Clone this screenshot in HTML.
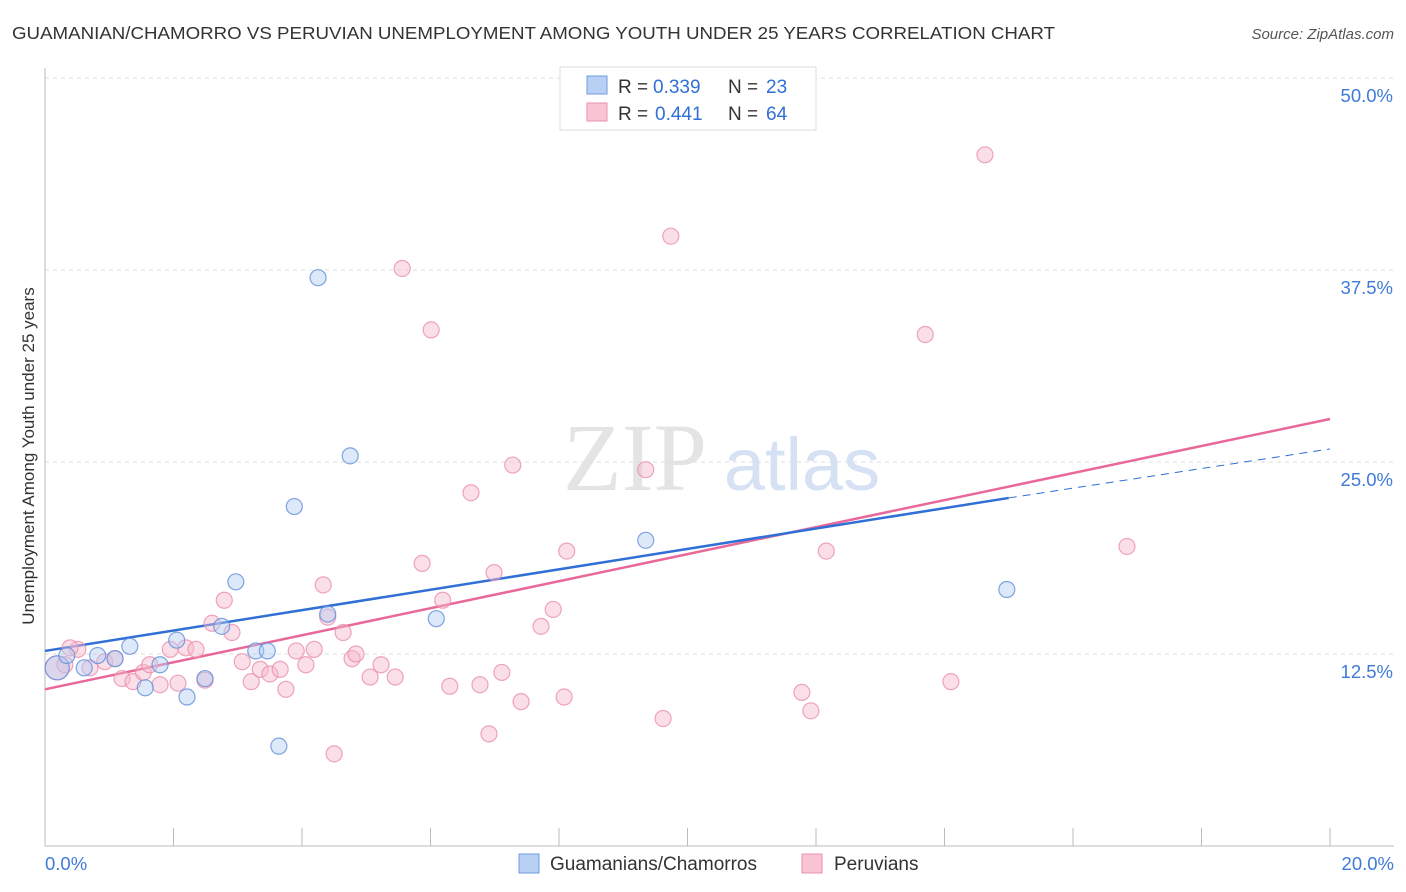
<!DOCTYPE html>
<html><head><meta charset="utf-8"><style>
body{margin:0;background:#fff;font-family:"Liberation Sans",sans-serif;}
svg{display:block}
</style></head><body>
<svg id="chart" width="1406" height="892" xmlns="http://www.w3.org/2000/svg">
<text x="12" y="39" font-size="17.5" fill="#333" textLength="1043" lengthAdjust="spacingAndGlyphs">GUAMANIAN/CHAMORRO VS PERUVIAN UNEMPLOYMENT AMONG YOUTH UNDER 25 YEARS CORRELATION CHART</text>
<text x="1394" y="39" font-size="15" fill="#555" text-anchor="end" font-style="italic">Source: ZipAtlas.com</text>
<g>
<text x="635" y="490" font-size="96" fill="#e4e4e4" text-anchor="middle" font-family="Liberation Serif,serif">ZIP</text>
<text x="802" y="490" font-size="74" fill="#d6e2f3" text-anchor="middle">atlas</text>
</g>
<g id="grid"></g>
<g id="axes"></g>
<g id="lines"></g>
<g id="points"></g>
<text transform="translate(34,456) rotate(-90)" font-size="17" fill="#333" text-anchor="middle">Unemployment Among Youth under 25 years</text>
<g>
<rect x="560" y="67" width="256" height="63" fill="#fff" stroke="#ddd"/>
<rect x="587" y="76" width="20" height="18" fill="#b8d0f3" stroke="#6f9be0"/>
<rect x="587" y="103" width="20" height="18" fill="#f9c5d5" stroke="#e990ad"/>
<text x="618" y="93" font-size="19" fill="#333">R =</text>
<text x="653" y="93" font-size="19" fill="#2f6fd6">0.339</text>
<text x="728" y="93" font-size="19" fill="#333">N =</text>
<text x="766" y="93" font-size="19" fill="#2f6fd6">23</text>
<text x="618" y="120" font-size="19" fill="#333">R =</text>
<text x="655" y="120" font-size="19" fill="#2f6fd6">0.441</text>
<text x="728" y="120" font-size="19" fill="#333">N =</text>
<text x="766" y="120" font-size="19" fill="#2f6fd6">64</text>
</g>
<g>
<rect x="519" y="854" width="20" height="19" fill="#b8d0f3" stroke="#6f9be0"/>
<text x="550" y="870" font-size="19" fill="#333">Guamanians/Chamorros</text>
<rect x="802" y="854" width="20" height="19" fill="#f9c5d5" stroke="#e990ad"/>
<text x="834" y="870" font-size="19" fill="#333">Peruvians</text>
</g>
</svg>
<script>
const yTicks=[12.5,25,37.5,50];
const yTickLabels=["12.5%","25.0%","37.5%","50.0%"];
const xTickLabels=["0.0%","20.0%"];
const blueX=[0.19,0.34,0.61,0.82,1.09,1.32,1.56,1.79,2.05,2.21,2.49,2.75,2.97,3.28,3.46,3.64,3.88,4.25,4.40,4.75,6.09,9.35,14.97];
const blueY=[11.6,12.4,11.6,12.4,12.2,13.0,10.3,11.8,13.4,9.7,10.9,14.3,17.2,12.7,12.7,6.5,22.1,37.0,15.1,25.4,14.8,19.9,16.7];
const pinkX=[0.19,0.31,0.51,0.70,0.93,1.09,1.20,1.37,1.53,1.63,1.79,1.95,2.07,2.19,2.35,2.49,2.60,2.79,2.91,3.07,3.21,3.35,3.50,3.66,3.75,3.91,4.06,4.19,4.33,4.40,4.50,4.64,4.78,4.84,5.06,5.23,5.45,5.56,5.87,6.01,6.19,6.30,6.63,6.77,6.91,6.99,7.11,7.28,7.41,7.72,7.91,8.08,8.12,9.35,9.62,9.74,11.78,11.92,12.16,13.70,14.10,14.63,16.84,0.39];
const pinkY=[11.6,11.8,12.8,11.6,12.0,12.2,10.9,10.7,11.3,11.8,10.5,12.8,10.6,12.9,12.8,10.8,14.5,16.0,13.9,12.0,10.7,11.5,11.2,11.5,10.2,12.7,11.8,12.8,17.0,14.9,6.0,13.9,12.2,12.5,11.0,11.8,11.0,37.6,18.4,33.6,16.0,10.4,23.0,10.5,7.3,17.8,11.3,24.8,9.4,14.3,15.4,9.7,19.2,24.5,8.3,39.7,10.0,8.8,19.2,33.3,10.7,45.0,19.5,12.9];
const blueTrend=[[0,12.7],[15.0,22.66]];
const blueDash=[[15.0,22.66],[20,25.85]];
const pinkTrend=[[0,10.2],[20,27.8]];
const NS="http://www.w3.org/2000/svg";
const X=v=>45+v/20*1285, Y=v=>846-v*15.36;
function mk(tag,attrs,parent){const e=document.createElementNS(NS,tag);for(const k in attrs)e.setAttribute(k,attrs[k]);document.getElementById(parent).appendChild(e);return e;}
yTicks.forEach((t,i)=>{
 const g=mk('line',{x1:45,x2:1394,y1:Y(t),y2:Y(t),stroke:'#ddd','stroke-dasharray':'4,4'},'grid');
 
 
 const l=mk('text',{x:1393,y:Y(t)+24,'font-size':18.5,fill:'#3f7ad8','text-anchor':'end'},'grid');
 l.textContent=yTickLabels[i];
 
 
});
const ya=mk('line',{x1:45,x2:45,y1:68,y2:846,stroke:'#bbb'},'axes');


const xa=mk('line',{x1:45,x2:1394,y1:846,y2:846,stroke:'#bbb'},'axes');


for(let i=1;i<=10;i++){const t=mk('line',{x1:X(i*2),x2:X(i*2),y1:828,y2:846,stroke:'#bbb'},'axes');
 
 }
[[0,'start',45],[20,'end',1394]].forEach((d,i)=>{const t=mk('text',{x:d[2],y:870,'font-size':18.5,fill:'#3f7ad8','text-anchor':d[1]},'axes');t.textContent=xTickLabels[i];
 
 });
function pts(xs,ys,fill,stroke,name){xs.forEach((v,i)=>{const r=i===0?12:8;const c=mk('circle',{cx:X(v),cy:Y(ys[i]),r:r,fill:fill,'fill-opacity':0.45,stroke:stroke,'stroke-opacity':0.8,'stroke-width':1.2},'points');
 
 });}
pts(pinkX,pinkY,'#f7b9cc','#ea8fae','peruvian-point');
pts(blueX,blueY,'#b3cdf2','#5f8fdc','guamanian-point');
function ln(p,color,dash,name){const l=mk('line',{x1:X(p[0][0]),y1:Y(p[0][1]),x2:X(p[1][0]),y2:Y(p[1][1]),stroke:color,'stroke-width':dash?1:2.5},'lines');if(dash)l.setAttribute('stroke-dasharray','8,6');
 
 }
ln(pinkTrend,'#e8689a',false,'peruvian-trendline');
ln(blueTrend,'#2f6fd6',false,'guamanian-trendline');
ln(blueDash,'#2f6fd6',true,'guamanian-trendline-extension');
</script>
</body></html>
